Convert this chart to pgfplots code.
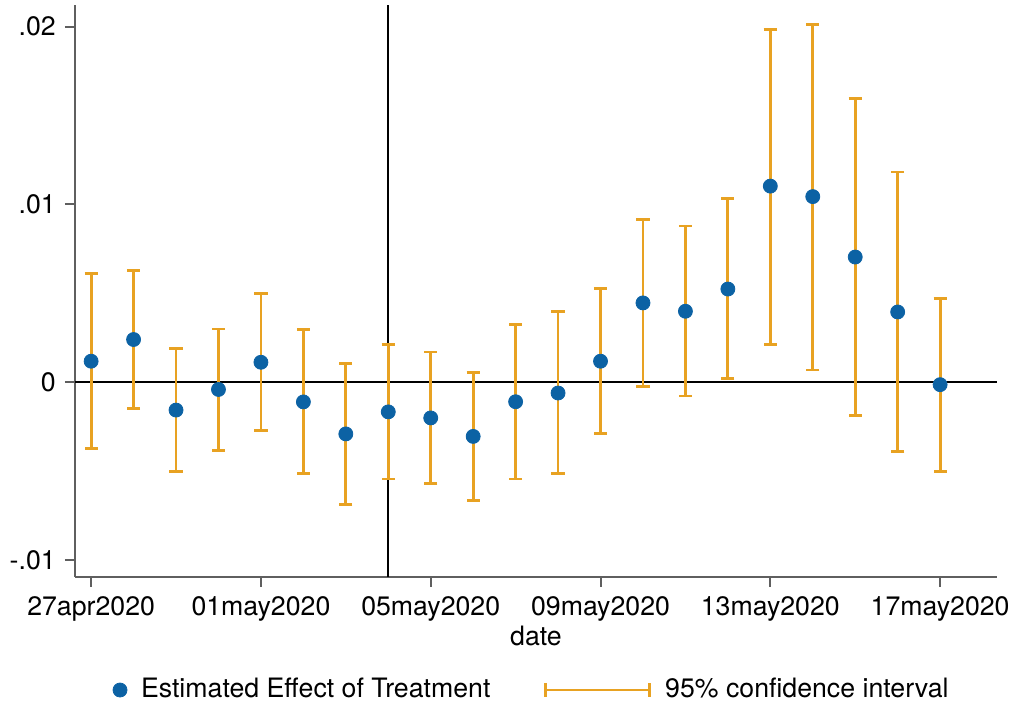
\documentclass[border=0pt]{standalone}
\usepackage{fontspec}
\setmainfont{TeX Gyre Heros}
\usepackage{pgfplots}
\pgfplotsset{compat=1.18}
\usepackage{pgfplotstable}
\definecolor{stblue}{RGB}{12,98,164}
\definecolor{storange}{RGB}{232,162,34}
\definecolor{axgray}{RGB}{95,95,95}
\pgfplotsset{
  dotlegend/.style={legend image code/.code={\draw[##1] plot coordinates {(0pt,0pt)};}},
  cilegend/.style={legend image code/.code={
    \draw[storange, line width=1.4pt] (0pt,0pt) -- (52pt,0pt);
    \draw[storange, line width=1.4pt] (0pt,-3.3pt) -- (0pt,3.3pt) (52pt,-3.3pt) -- (52pt,3.3pt);}},
}

\pgfplotstableread{
x est lo hi
0 0.00117 -0.00374 0.00609
1 0.00239 -0.00150 0.00629
2 -0.00158 -0.00502 0.00188
3 -0.00042 -0.00385 0.00298
4 0.00111 -0.00273 0.00496
5 -0.00112 -0.00515 0.00294
6 -0.00292 -0.00687 0.00105
7 -0.00168 -0.00546 0.00212
8 -0.00202 -0.00570 0.00169
9 -0.00306 -0.00665 0.00054
10 -0.00111 -0.00546 0.00323
11 -0.00062 -0.00516 0.00396
12 0.00117 -0.00290 0.00525
13 0.00445 -0.00024 0.00912
14 0.00398 -0.00079 0.00878
15 0.00523 0.00019 0.01031
16 0.01102 0.00210 0.01981
17 0.01043 0.00068 0.02010
18 0.00703 -0.00188 0.01595
19 0.00394 -0.00391 0.01181
20 -0.00015 -0.00503 0.00472
}\data

\begin{document}
\fontsize{13.35}{15}\selectfont
\begin{tikzpicture}
\path[use as bounding box] (-37.5pt,-64.5pt) rectangle (469pt,288.5pt);
\begin{axis}[
  width=461pt, height=286pt, scale only axis,
  xmin=-0.38, xmax=21.34, ymin=-0.01097, ymax=0.02121,
  axis x line=bottom, axis y line=left,
  axis line style={-, draw=axgray, line width=1pt},
  tick align=outside, major tick length=5pt,
  tick style={draw=axgray, line width=1pt},
  xtick={0,4,8,12,16,20},
  xticklabels={27apr2020,01may2020,05may2020,09may2020,13may2020,17may2020},
  ytick={-0.01,0,0.01,0.02},
  yticklabels={-.01,0,.01,.02},
  scaled y ticks=false,
  /pgf/number format/assume math mode=true,
  ticklabel style={font=\fontsize{13.35}{15}\selectfont},
  xlabel={date},
  xlabel style={font=\fontsize{13.35}{15}\selectfont, yshift=6.5pt},
  legend columns=2,
  legend style={at={(0.4965,-0.1976)}, anchor=center, draw=none, fill=none,
    font=\fontsize{13.35}{15}\selectfont,
    /tikz/every odd column/.append style={column sep=5pt},
    /tikz/every even column/.append style={column sep=25pt}},
]
\addplot[black, line width=1.1pt, forget plot] coordinates {(-0.38,0) (21.34,0)};
\addplot[black, line width=1.1pt, forget plot] coordinates {(7,-0.01097) (7,0.02121)};
\addplot[only marks, mark=none, forget plot,
  error bars/.cd, y dir=both, y explicit, error mark=|,
  error bar style={draw=storange, line width=1.4pt},
  error mark options={draw=storange, line width=1.4pt, mark size=3.3pt}]
  table[x=x, y=est, y error plus expr=\thisrow{hi}-\thisrow{est}, y error minus expr=\thisrow{est}-\thisrow{lo}] {\data};
\addplot[only marks, mark=*, mark size=3.5pt, color=stblue,
  mark options={draw=stblue, fill=stblue}, dotlegend]
  table[x=x, y=est] {\data};
\addlegendentry{Estimated Effect of Treatment}
\addlegendimage{cilegend}
\addlegendentry{95\% confidence interval}
\end{axis}
\end{tikzpicture}
\end{document}
